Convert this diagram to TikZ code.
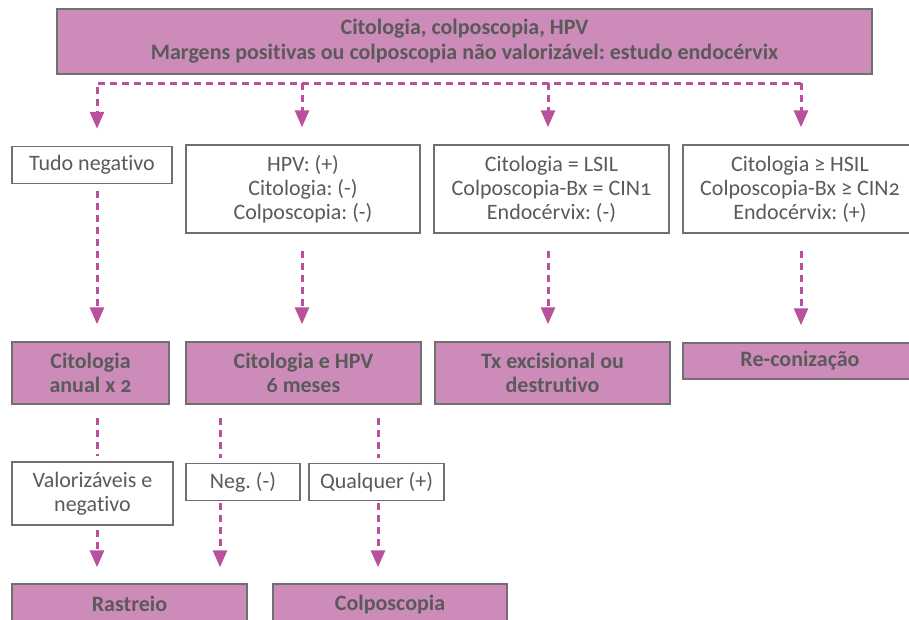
\documentclass[tikz,border=0pt]{standalone}
\usepackage{fontspec}
\setmainfont{Carlito}[Numbers=OldStyle,Ligatures=CommonOff]
\usetikzlibrary{arrows.meta}

\definecolor{rosa}{HTML}{CC8BB8}
\definecolor{borda}{HTML}{707070}
\definecolor{texto}{HTML}{5A5A5A}
\definecolor{seta}{HTML}{B8509B}

\tikzset{
  caixa/.style={draw=borda, line width=1.5pt, text=texto, align=center, inner sep=0pt,
    font=\fontsize{22}{24}\selectfont\frenchspacing},
  branca/.style={caixa, fill=white},
  caixarosa/.style={caixa, fill=rosa, font=\fontsize{22}{24}\selectfont\bfseries\frenchspacing},
  tracejado/.style={seta, line width=3pt, dash pattern=on 7pt off 5pt},
  fluxo/.style={tracejado, -{Triangle[width=14pt,length=17pt]}},
}

\begin{document}
\begin{tikzpicture}[x=1pt,y=-1pt]

      \useasboundingbox (0,0) rectangle (909,619);

      % topo
      \node[caixarosa,minimum width=815pt,minimum height=65pt,font=\fontsize{22}{25}\selectfont\bfseries\frenchspacing] (topo) at (464.5,41.5)
        {Citologia, colposcopia, HPV\\Margens positivas ou colposcopia não valorizável: estudo endocérvix};

      \coordinate (b1) at (97,83);
      \coordinate (b2) at (302,83);
      \coordinate (b3) at (548,83);
      \coordinate (b4) at (801,83);
      \coordinate (c2) at (220,440);
      \coordinate (c3) at (378,440);

      % segunda linha
      \node[branca,minimum width=160pt,minimum height=37pt] (tudo) at (92,165) {Tudo negativo};
      \node[branca,minimum width=234pt,minimum height=88pt] (hpv) at (303,189) {HPV: (+)\\Citologia: (-)\\Colposcopia: (-)};
      \node[branca,minimum width=235pt,minimum height=88pt] (lsil) at (551.5,189) {Citologia = LSIL\\Colposcopia-Bx = CIN1\\Endocérvix: (-)};
      \node[branca,minimum width=234pt,minimum height=88pt] (hsil) at (800,189) {Citologia ≥ HSIL\\Colposcopia-Bx ≥ CIN2\\Endocérvix: (+)};

      % terceira linha
      \node[caixarosa,minimum width=157pt,minimum height=62pt] (cita) at (90.5,373) {Citologia\\anual x 2};
      \node[caixarosa,minimum width=235pt,minimum height=62pt] (cithpv) at (303.5,373) {Citologia e HPV\\6 meses};
      \node[caixarosa,minimum width=235pt,minimum height=62pt] (tx) at (552.5,373) {Tx excisional ou\\destrutivo};
      \node[caixarosa,minimum width=234pt,minimum height=36pt] (recon) at (800,361) {Re-conização};

      % quarta linha
      \node[branca,minimum width=161pt,minimum height=63pt] (valor) at (92.5,493.5) {Valorizáveis e\\negativo};
      \node[branca,minimum width=114pt,minimum height=37pt] (neg) at (243,482) {Neg. (-)};
      \node[branca,minimum width=135pt,minimum height=37pt] (qual) at (376.5,482) {Qualquer (+)};

      % quinta linha
      \node[caixarosa,minimum width=235pt,minimum height=40pt] (rast) at (129.5,604) {Rastreio};
      \node[caixarosa,minimum width=234pt,minimum height=40pt] (colp) at (390,604) {Colposcopia};

      % setas
      \draw[fluxo,shorten >=17pt] (b4) -- (b1) -- (tudo.north -| b1);
      \draw[fluxo,shorten >=17pt] (b2) -- (hpv.north -| b2);
      \draw[fluxo,shorten >=17pt] (b3) -- (lsil.north -| b3);
      \draw[fluxo,shorten >=17pt] (b4) -- (hsil.north -| b4);

      \draw[fluxo,shorten <=7pt,shorten >=17pt] (tudo.south -| b1) -- (cita.north -| b1);
      \draw[fluxo,shorten <=17pt,shorten >=17pt] (hpv.south -| b2) -- (cithpv.north -| b2);
      \draw[fluxo,shorten <=17pt,shorten >=17pt] (lsil.south -| b3) -- (tx.north -| b3);
      \draw[fluxo,shorten <=17pt,shorten >=17pt] (hsil.south -| b4) -- (recon.north -| b4);

      \draw[tracejado,shorten <=13pt,shorten >=5pt] (cita.south -| b1) -- (valor.north -| b1);
      \draw[tracejado,shorten <=13pt,shorten >=5pt] (cithpv.south -| c2) -- (neg.north -| c2);
      \draw[tracejado,shorten <=13pt,shorten >=5pt] (cithpv.south -| c3) -- (qual.north -| c3);

      \draw[fluxo,shorten <=4pt,shorten >=16pt] (valor.south -| b1) -- (rast.north -| b1);
      \draw[fluxo,shorten <=2pt,shorten >=16pt] (neg.south -| c2) -- (rast.north -| c2);
      \draw[fluxo,shorten <=2pt,shorten >=16pt] (qual.south -| c3) -- (colp.north -| c3);

\end{tikzpicture}
\end{document}
